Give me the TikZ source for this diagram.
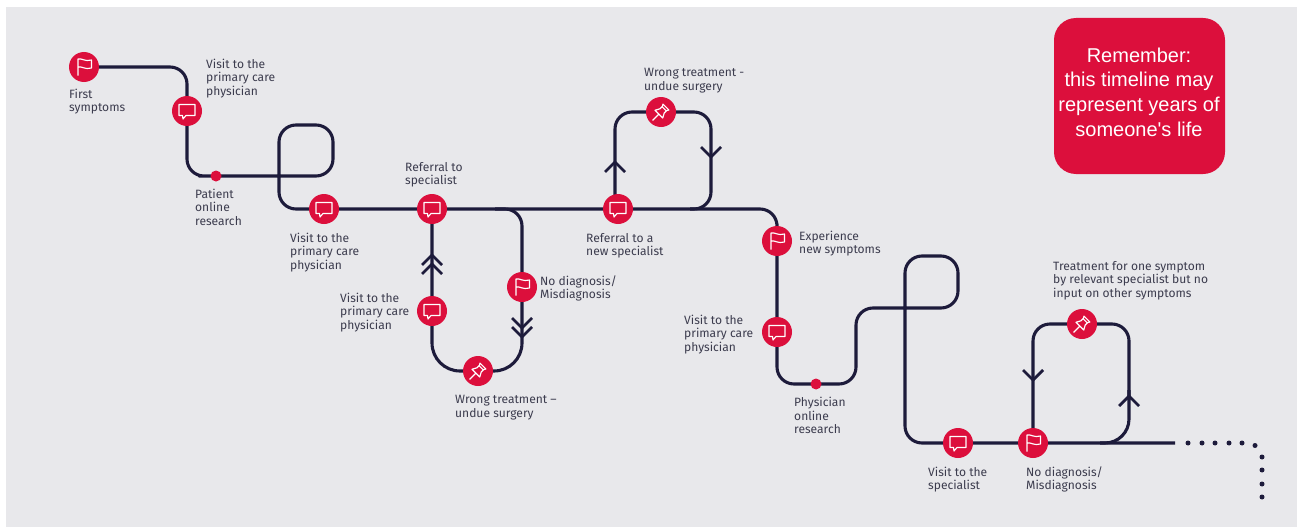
\documentclass[tikz,border=0pt]{standalone}
\usepackage{fontspec}
\setmainfont{Fira Sans}
\newfontfamily\calloutfont{Liberation Sans}
\usetikzlibrary{backgrounds}
\definecolor{pathink}{HTML}{1D1B3B}
\definecolor{markred}{HTML}{DC0F3C}
\definecolor{labelink}{HTML}{3C3C4E}
\definecolor{panelgray}{HTML}{E8E8EB}
\tikzset{
  route/.style={draw=pathink,line width=3.1pt,line join=round},
  chevline/.style={draw=pathink,line width=2.8pt},
  marker/.style={circle,fill=markred,minimum size=30pt,inner sep=0pt,outer sep=0pt},
  smalldot/.style={circle,fill=markred,minimum size=11pt,inner sep=0pt},
  trail/.style={circle,fill=pathink,minimum size=5pt,inner sep=0pt},
  lbl/.style={anchor=west,align=left,inner sep=0pt,text=labelink,font=\fontsize{12.05}{13.4}\selectfont},
  icon/.style={draw=white,line width=1.15pt,line join=round,fill=none},
  flagicon/.pic={
    \draw[icon] (-6,8.5) -- (-6,-8) .. controls (-2,-9) and (1,-5) .. (7.5,-7) -- (7.5,1) .. controls (1,3) and (-2,-1) .. (-6,0);
  },
  speechicon/.pic={
    \draw[icon] (-8,-6.5) -- (8,-6.5) -- (8,4.5) -- (-1,4.5) -- (-4,8) -- (-4.5,4.5) -- (-8,4.5) -- cycle;
  },
  pinicon/.pic={
    \begin{scope}[rotate=-45]
      \draw[icon] (0,3) -- (0,12);
      \draw[icon] (-5.5,3) -- (5.5,3) -- (3,-1.5) -- (3,-5) -- (4.2,-7) -- (-4.2,-7) -- (-3,-5) -- (-3,-1.5) -- cycle;
      \draw[icon] (-3,-4.5) -- (3,-4.5);
    \end{scope}
  },
  upchev/.pic={\draw[chevline] (-10,10) -- (0,0) -- (10,10);},
  downchev/.pic={\draw[chevline] (-10,-10) -- (0,0) -- (10,-10);}
}
\begin{document}
\begin{tikzpicture}[x=1pt,y=-1pt]
\useasboundingbox (0,0) rectangle (1297,527);
% markers
\node[marker] (f1) at (84,67) {}; \pic at (f1.center) {flagicon};
\node[marker] (s1) at (187,111) {}; \pic at (s1.center) {speechicon};
\node[smalldot] (d1) at (216,176) {};
\node[marker] (s2) at (324,209) {}; \pic at (s2.center) {speechicon};
\node[marker] (s3) at (432,209) {}; \pic at (s3.center) {speechicon};
\node[marker] (s4) at (432,311) {}; \pic at (s4.center) {speechicon};
\node[marker] (f2) at (522,287) {}; \pic at (f2.center) {flagicon};
\node[marker] (p1) at (478,371) {}; \pic at (p1.center) {pinicon};
\node[marker] (s5) at (618,209) {}; \pic at (s5.center) {speechicon};
\node[marker] (p2) at (661,112) {}; \pic at (p2.center) {pinicon};
\node[marker] (f3) at (777,241) {}; \pic at (f3.center) {flagicon};
\node[marker] (s6) at (777,332) {}; \pic at (s6.center) {speechicon};
\node[smalldot] (d2) at (816,384) {};
\node[marker] (s7) at (958,443) {}; \pic at (s7.center) {speechicon};
\node[marker] (f4) at (1033,443) {}; \pic at (f4.center) {flagicon};
\node[marker] (p3) at (1082,324) {}; \pic at (p3.center) {pinicon};
\coordinate (lineend) at (1175,443);
\begin{scope}[on background layer]
  \fill[panelgray] (6,7) rectangle (1297,527);
  % main route
  \draw[route,rounded corners=17pt] (f1.center) -- (187,67) -- (s1.center) -- (187,176) -- (d1.center)
    -- (333,176) -- (333,125) -- (279,125) -- (279,209) -- (s2.center) -- (s3.center) -- (s5.center)
    -- (777,209) -- (f3.center) -- (s6.center) -- (777,384) -- (d2.center) -- (856,384) -- (856,308)
    -- (958,308) -- (958,256) -- (905,256) -- (905,443) -- (s7.center) -- (f4.center) -- (lineend);
  % loop below the main route
  \draw[route] (s3.center) -- (s4.center) -- (432,343) arc[start angle=180,end angle=90,radius=28]
    -- (p1.center) -- (494,371) arc[start angle=90,end angle=0,radius=28] -- (f2.center);
  \draw[route,rounded corners=17pt] (f2.center) -- (522,209) -- (495,209);
  % upper loop
  \draw[route,rounded corners=17pt] (615,209) -- (615,112) -- (p2.center) -- (711,112) -- (711,209) -- (690,209);
  % lower right loop
  \draw[route,rounded corners=17pt] (f4.center) -- (1033,324) -- (p3.center) -- (1129,324) -- (1129,400);
  \draw[route,rounded corners=24pt] (1129,390) -- (1129,443) -- (1100,443);
\end{scope}
% chevrons
\pic at (432,255) {upchev}; \pic at (432,264) {upchev};
\pic at (522,328) {downchev}; \pic at (522,337) {downchev};
\pic at (615,162) {upchev};
\pic at (711,157) {downchev};
\pic at (1033,380) {downchev};
\pic at (1129,396) {upchev};
% trailing dots
\foreach \n/\x/\y in {a/1188/443,b/1202/443,c/1215/443,d/1229/443,e/1242/443,f/1255/445.5,g/1262/457,h/1262/470,i/1262/484,j/1262/497}
  \node[trail] (t\n) at (\x,\y) {};
% labels
\node[lbl] (l1) at (69,101.5) {First\\symptoms};
\node[lbl] (l2) at (206,78.5) {Visit to the\\primary care\\physician};
\node[lbl] (l3) at (195,207) {Patient\\online\\research};
\node[lbl] (l4) at (290,252.5) {Visit to the\\primary care\\physician};
\node[lbl] (l5) at (405,174.5) {Referral to\\specialist};
\node[lbl] (l6) at (340,312.5) {Visit to the\\primary care\\physician};
\node[lbl] (l7) at (540,288.5) {No diagnosis/\\Misdiagnosis};
\node[lbl] (l8) at (455,407.5) {Wrong treatment –\\undue surgery};
\node[lbl] (l9) at (586,245.5) {Referral to a\\new specialist};
\node[lbl] (l10) at (644,80.5) {Wrong treatment -\\undue surgery};
\node[lbl] (l11) at (799,243.5) {Experience\\new symptoms};
\node[lbl] (l12) at (684,334.5) {Visit to the\\primary care\\physician};
\node[lbl] (l13) at (794,415.5) {Physician\\online\\research};
\node[lbl] (l14) at (928,479.5) {Visit to the\\specialist};
\node[lbl] (l15) at (1026,479.5) {No diagnosis/\\Misdiagnosis};
\node[lbl] (l16) at (1053,280.5) {Treatment for one symptom\\by relevant specialist but no\\input on other symptoms};
% callout
\node[fill=markred,rounded corners=22pt,minimum width=171pt,minimum height=156pt,inner sep=0pt] (note) at (1139.5,96) {};
\node[text=white,align=center,inner sep=0pt,font=\calloutfont\fontsize{20}{24.7}\selectfont] (notetext) at (1139,92) {Remember:\\this timeline may\\represent years of\\someone's life};
\end{tikzpicture}
\end{document}
